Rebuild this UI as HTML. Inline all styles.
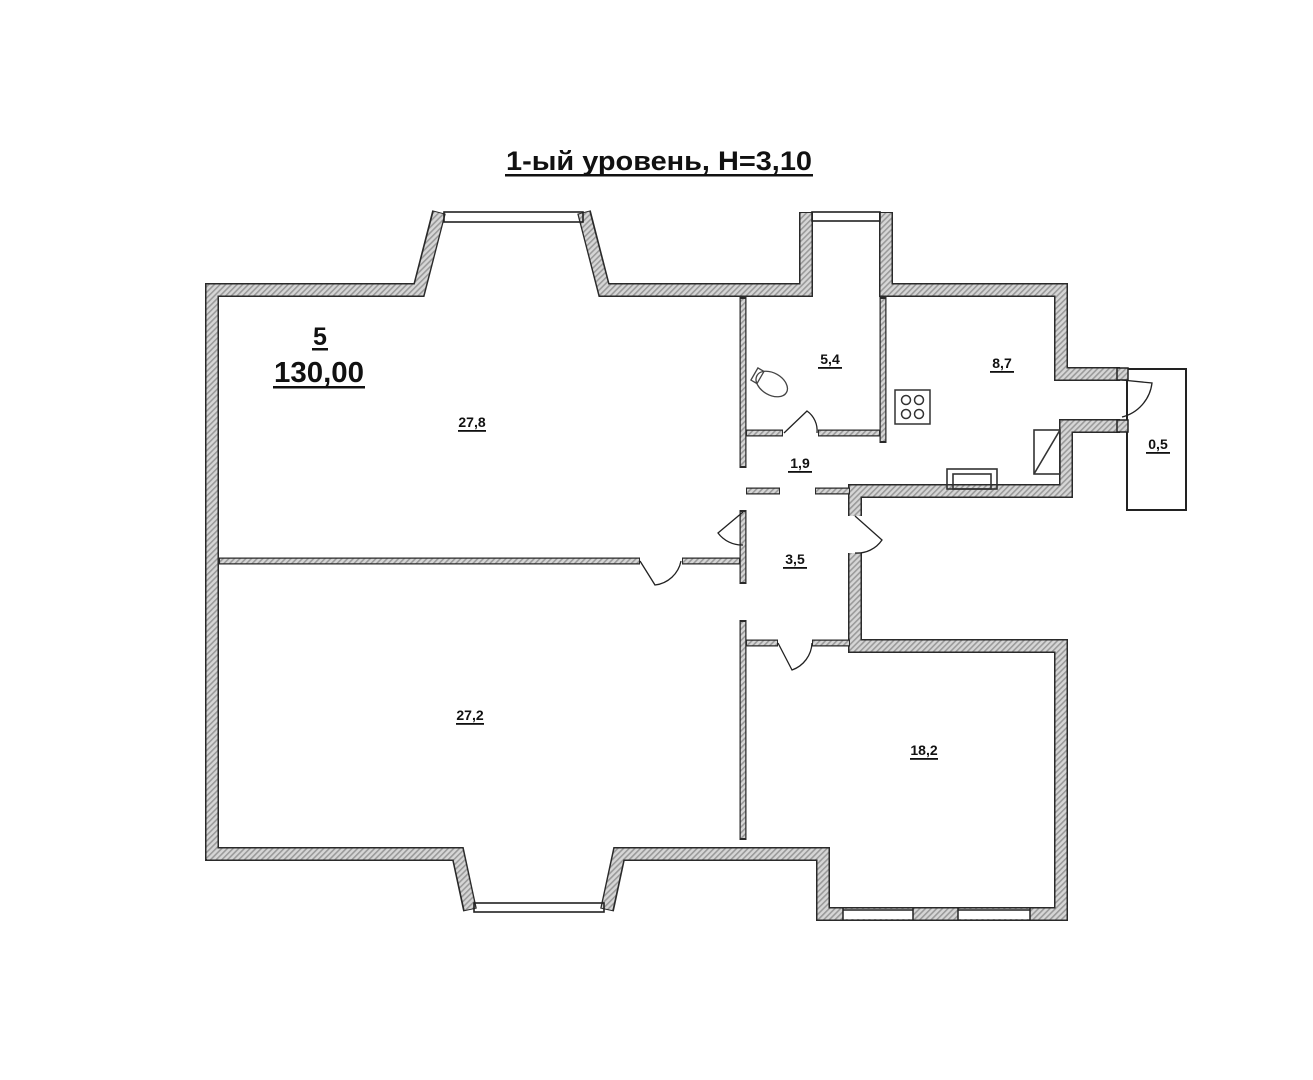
<!DOCTYPE html>
<html><head><meta charset="utf-8"><style>
html,body{margin:0;padding:0;background:#fff;}
svg{display:block;}
text{font-family:"Liberation Sans",Arial,sans-serif;font-weight:bold;fill:#111;}
</style></head><body>
<svg width="1313" height="1080" viewBox="0 0 1313 1080" xmlns="http://www.w3.org/2000/svg">
<defs>
<pattern id="h" width="4" height="4" patternUnits="userSpaceOnUse" patternTransform="rotate(45)">
<rect width="4" height="4" fill="#d6d6d6"/><rect width="1.6" height="4" fill="#9a9a9a"/>
</pattern>
</defs>
<rect width="1313" height="1080" fill="#fff"/>

<!-- title -->
<text x="506" y="170" font-size="27" textLength="306" lengthAdjust="spacingAndGlyphs">1-ый уровень, H=3,10</text>
<rect x="505" y="174" width="308" height="2.5" fill="#111"/>

<!-- outer walls -->
<g fill="none" stroke-linejoin="miter" stroke-linecap="butt">
<path d="M212,861 L212,290 L419,290 L439,212 M584,212 L604,290 L806,290 L806,212 M886,212 L886,290 L1061,290 L1061,374 L1120,374 M1120,426 L1066,426 L1066,491 L855,491 L855,516 M855,553 L855,646 L1061,646 L1061,914 L823,914 L823,854 L619,854 L607,910 M470,910 L458,854 L205,854" stroke="#2a2a2a" stroke-width="14"/>
<path d="M212,859 L212,290 L419,290 L439,213 M584,213 L604,290 L806,290 L806,213 M886,213 L886,290 L1061,290 L1061,374 L1120,374 M1120,426 L1066,426 L1066,491 L855,491 L855,516 M855,553 L855,646 L1061,646 L1061,914 L823,914 L823,854 L619,854 L607,909 M470,909 L458,854 L207,854" stroke="url(#h)" stroke-width="11"/>
</g>

<!-- windows -->
<g fill="none" stroke="#222" stroke-width="1.6">
<rect x="444" y="212" width="139" height="10"/>
<rect x="812" y="212" width="68" height="9"/>
<rect x="474" y="903" width="130" height="9"/>
</g>
<rect x="843" y="909" width="70" height="10" fill="#fff"/>
<rect x="958" y="909" width="72" height="10" fill="#fff"/>
<g stroke="#222" stroke-width="1.5"><line x1="843" y1="910" x2="913" y2="910"/><line x1="958" y1="910" x2="1030" y2="910"/><line x1="843" y1="908" x2="843" y2="920"/><line x1="913" y1="908" x2="913" y2="920"/><line x1="958" y1="908" x2="958" y2="920"/><line x1="1030" y1="908" x2="1030" y2="920"/></g>

<!-- closet 0.5 -->
<rect x="1127" y="369" width="59" height="141" fill="none" stroke="#222" stroke-width="2"/>
<rect x="1117" y="368" width="11" height="12" fill="url(#h)" stroke="#222" stroke-width="1.5"/>
<rect x="1117" y="420" width="11" height="12" fill="url(#h)" stroke="#222" stroke-width="1.5"/>
<path d="M1122,380 L1152,383 A40,40 0 0 1 1122,417" fill="none" stroke="#222" stroke-width="1.3"/>

<!-- interior thin walls -->
<g fill="none" stroke-linecap="butt">
<g stroke="#2a2a2a" stroke-width="7">
<path d="M743,297 L743,468 M743,510 L743,584 M743,620 L743,840"/>
<path d="M883,297 L883,443"/>
<path d="M746,433 L783,433 M818,433 L880,433"/>
<path d="M746,491 L780,491 M815,491 L850,491"/>
<path d="M219,561 L640,561 M682,561 L740,561"/>
<path d="M746,643 L778,643 M812,643 L850,643"/>
</g>
<g stroke="url(#h)" stroke-width="4.5">
<path d="M743,299 L743,466 M743,512 L743,582 M743,622 L743,838"/>
<path d="M883,299 L883,441"/>
<path d="M747,433 L782,433 M819,433 L879,433"/>
<path d="M747,491 L779,491 M816,491 L849,491"/>
<path d="M220,561 L639,561 M683,561 L739,561"/>
<path d="M747,643 L777,643 M813,643 L849,643"/>
</g>
</g>

<!-- doors -->
<g fill="none" stroke="#222" stroke-width="1.3">
<path d="M784,433 L807,411 A24,24 0 0 1 817,433"/>
<path d="M743,512 L718,533 A30,30 0 0 0 743,545"/>
<path d="M855,516 L882,540 A30,30 0 0 1 855,553"/>
<path d="M640,561 L655,585 A30,30 0 0 0 681,561"/>
<path d="M778,643 L792,670 A30,30 0 0 0 812,643"/>
</g>

<!-- toilet -->
<g fill="none" stroke="#444" stroke-width="1.3" transform="rotate(30 770 383)">
<ellipse cx="772" cy="383" rx="17" ry="11"/>
<rect x="752" y="376" width="7" height="14"/>
</g>
<!-- stove -->
<g fill="none" stroke="#333" stroke-width="1.5">
<rect x="895" y="390" width="35" height="34"/>
<circle cx="906" cy="400" r="4.5"/><circle cx="919" cy="400" r="4.5"/>
<circle cx="906" cy="414" r="4.5"/><circle cx="919" cy="414" r="4.5"/>
</g>
<!-- sink / counter -->
<g fill="none" stroke="#333" stroke-width="1.6">
<rect x="947" y="469" width="50" height="20"/>
<rect x="953" y="474" width="38" height="15"/>
<rect x="1034" y="430" width="26" height="44"/>
<line x1="1034" y1="474" x2="1060" y2="430"/>
</g>

<!-- labels -->
<text x="320" y="345" font-size="25" text-anchor="middle">5</text>
<rect x="312" y="348" width="16" height="2.5" fill="#111"/>
<text x="319" y="382" font-size="29" text-anchor="middle" textLength="90" lengthAdjust="spacingAndGlyphs">130,00</text>
<rect x="273" y="386" width="92" height="2.5" fill="#111"/>

<g font-size="14" text-anchor="middle">
<text x="472" y="427">27,8</text><rect x="458" y="430" width="28" height="1.8" fill="#111"/>
<text x="830" y="364">5,4</text><rect x="818" y="367" width="24" height="1.8" fill="#111"/>
<text x="1002" y="368">8,7</text><rect x="990" y="371" width="24" height="1.8" fill="#111"/>
<text x="800" y="468">1,9</text><rect x="788" y="471" width="24" height="1.8" fill="#111"/>
<text x="795" y="564">3,5</text><rect x="783" y="567" width="24" height="1.8" fill="#111"/>
<text x="1158" y="449">0,5</text><rect x="1146" y="452" width="24" height="1.8" fill="#111"/>
<text x="470" y="720">27,2</text><rect x="456" y="723" width="28" height="1.8" fill="#111"/>
<text x="924" y="755">18,2</text><rect x="910" y="758" width="28" height="1.8" fill="#111"/>
</g>
</svg>
</body></html>
